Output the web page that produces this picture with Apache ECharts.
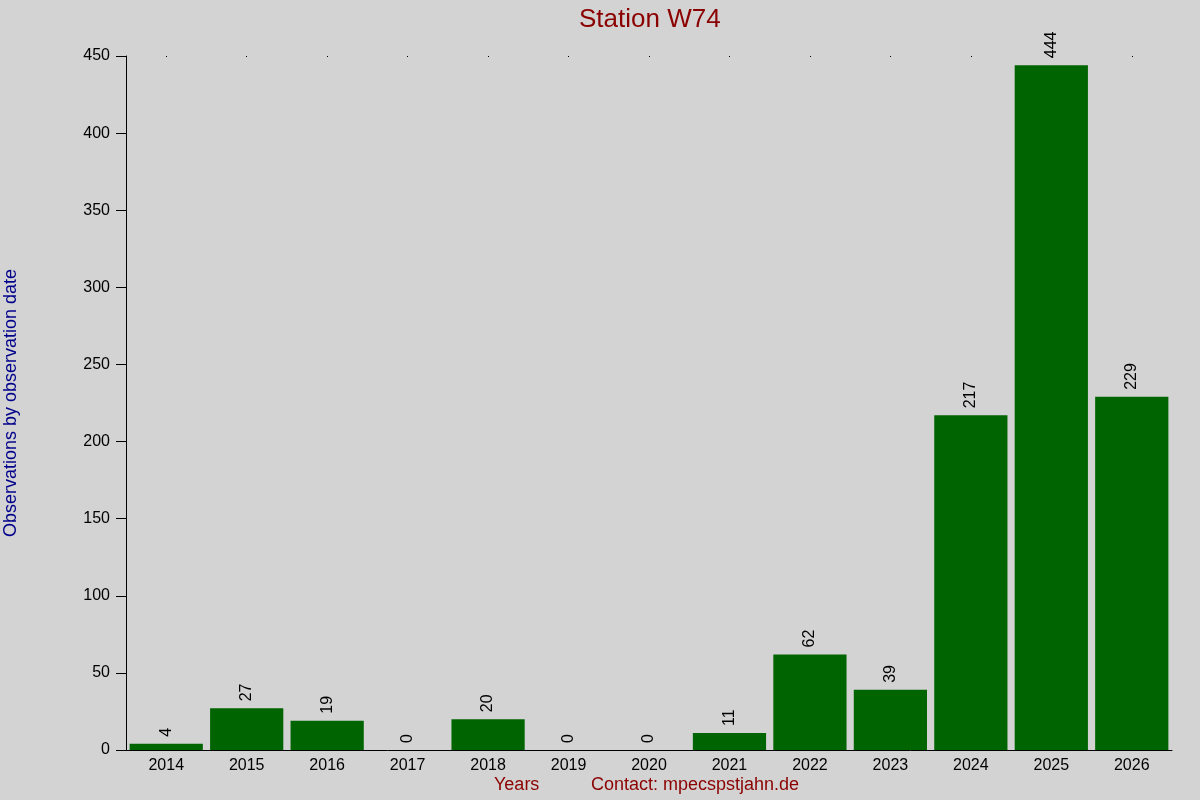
<!DOCTYPE html>
<html>
<head>
<meta charset="utf-8">
<script src="https://cdn.jsdelivr.net/npm/echarts@6/dist/echarts.min.js"></script>
<style>
    html, body { margin: 0; padding: 0; background: #d3d3d3; }
    #chart { width: 1200px; height: 800px; }
</style>
</head>
<body>
<div id="chart"></div>
<script>
// 数据
var years = ['2014', '2015', '2016', '2017', '2018', '2019', '2020', '2021', '2022', '2023', '2024', '2025', '2026'];
var counts = [4, 27, 19, 0, 20, 0, 0, 11, 62, 39, 217, 444, 229];
var yTicks = { min: 0, max: 450, interval: 50 };

var box = echarts.init(document.getElementById('chart'));
var option = {
    backgroundColor: '#d3d3d3',
    animation: false,
    textStyle: { fontFamily: 'Arial, Liberation Sans, sans-serif' },
    title: {
        text: 'Station W74',
        left: 574,
        top: 2,
        textStyle: { color: '#8b0000', fontSize: 26, fontWeight: 'normal' }
    },
    graphic: [
        {
            type: 'text', left: 494, top: 776,
            style: { text: 'Years', fill: '#8b0000', font: '18px Arial, Liberation Sans, sans-serif' }
        },
        {
            type: 'text', left: 591, top: 776,
            style: { text: 'Contact: mpecspstjahn.de', fill: '#8b0000', font: '18px Arial, Liberation Sans, sans-serif' }
        }
    ],
    grid: { left: 126, right: 28, top: 56, bottom: 50, outerBoundsMode: 'none', containLabel: false },
    xAxis: [
        {
            type: 'category',
            data: years,
            axisLine: { show: true, lineStyle: { color: '#000', width: 1 } },
            axisTick: { show: false },
            axisLabel: { color: '#000', fontSize: 16, margin: 8 }
        },
        {
            // 顶部的小点
            type: 'category',
            position: 'top',
            data: years,
            axisLine: { show: false },
            axisTick: { show: true, alignWithLabel: true, length: -1, lineStyle: { color: '#000' } },
            axisLabel: { show: false }
        }
    ],
    yAxis: {
        type: 'value',
        min: yTicks.min,
        max: yTicks.max,
        interval: yTicks.interval,
        name: 'Observations by observation date',
        nameLocation: 'middle',
        nameGap: 106,
        nameTextStyle: { color: '#00008b', fontSize: 18 },
        axisLine: { show: true, lineStyle: { color: '#000', width: 1 } },
        axisTick: { show: true, length: 10, lineStyle: { color: '#000' } },
        axisLabel: { color: '#000', fontSize: 16, margin: 16 },
        splitLine: { show: false }
    },
    series: [
        {
            type: 'bar',
            data: counts,
            barCategoryGap: '9%',
            itemStyle: { color: '#006400' },
            label: {
                show: true,
                position: 'top',
                rotate: 90,
                align: 'left',
                verticalAlign: 'middle',
                distance: 7,
                color: '#000',
                fontSize: 16
            }
        }
    ]
};
box.setOption(option);
</script>
</body>
</html>
